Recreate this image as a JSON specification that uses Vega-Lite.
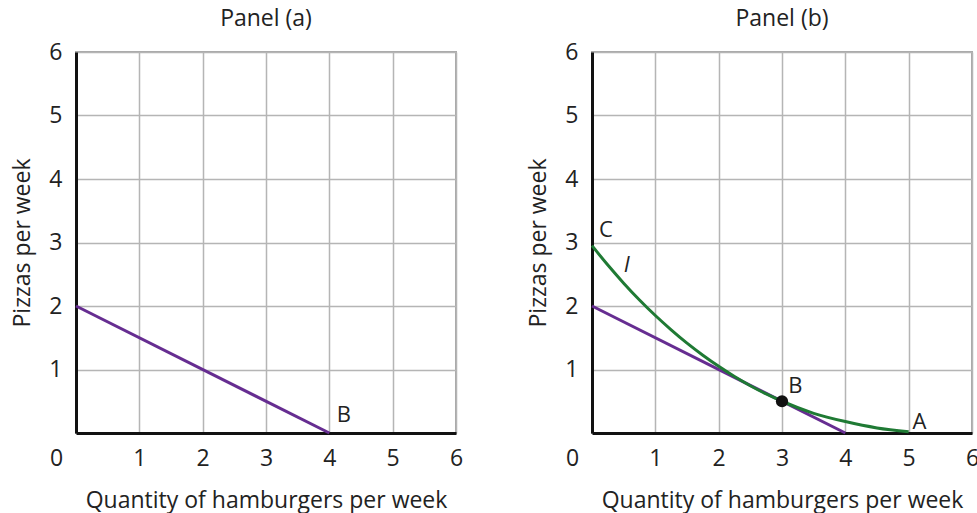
{
  "$schema": "https://vega.github.io/schema/vega-lite/v6.json",
  "padding": {"left": 10, "top": 7, "right": 4, "bottom": 4},
  "background": "white",
  "config": {
    "font": "Open Sans",
    "view": {"stroke": "#a8a8a8", "strokeWidth": 2},
    "axis": {
      "grid": true, "gridColor": "#b5b5b5", "gridWidth": 1.5,
      "domainColor": "#111", "domainWidth": 3, "ticks": false,
      "labelFontSize": 23, "labelColor": "#222", "labelOverlap": false, "labelFlush": false,
      "titleFontSize": 23, "titleFontWeight": "normal", "titleColor": "#222"
    },
    "title": {"fontSize": 23, "fontWeight": "normal", "color": "#222", "offset": 10},
    "concat": {"spacing": 62}
  },
  "hconcat": [
    {
      "title": "Panel (a)",
      "width": 380, "height": 381,
      "encoding": {
        "x": {"field": "x", "type": "quantitative", "scale": {"domain": [0, 6], "nice": false},
          "axis": {"values": [0, 1, 2, 3, 4, 5, 6], "title": "Quantity of hamburgers per week",
            "labelOffset": {"condition": {"test": "datum.value == 0", "value": -20}, "value": 0},
            "labelPadding": 14, "titlePadding": 19}},
        "y": {"field": "y", "type": "quantitative", "scale": {"domain": [0, 6], "nice": false},
          "axis": {"values": [1, 2, 3, 4, 5, 6], "title": "Pizzas per week", "labelPadding": 14, "titlePadding": 14}}
      },
      "layer": [
        {
          "data": {"values": [{"x": 0, "y": 2}, {"x": 4, "y": 0}]},
          "mark": {"type": "line", "color": "#662d91", "strokeWidth": 3}
        },
        {
          "data": {"values": [{"x": 4.23, "y": 0.28, "label": "B"}]},
          "mark": {"type": "text", "fontSize": 22, "color": "#222", "align": "center", "baseline": "middle"},
          "encoding": {"text": {"field": "label"}}
        }
      ]
    },
    {
      "title": "Panel (b)",
      "width": 380, "height": 381,
      "encoding": {
        "x": {"field": "x", "type": "quantitative", "scale": {"domain": [0, 6], "nice": false},
          "axis": {"values": [0, 1, 2, 3, 4, 5, 6], "title": "Quantity of hamburgers per week",
            "labelOffset": {"condition": {"test": "datum.value == 0", "value": -20}, "value": 0},
            "labelPadding": 14, "titlePadding": 19}},
        "y": {"field": "y", "type": "quantitative", "scale": {"domain": [0, 6], "nice": false},
          "axis": {"values": [1, 2, 3, 4, 5, 6], "title": "Pizzas per week", "labelPadding": 14, "titlePadding": 14}}
      },
      "layer": [
        {
          "data": {"values": [{"x": 0, "y": 2}, {"x": 4, "y": 0}]},
          "mark": {"type": "line", "color": "#662d91", "strokeWidth": 3}
        },
        {
          "data": {"values": [
            {"x": 0, "y": 2.95}, {"x": 0.25, "y": 2.645}, {"x": 0.5, "y": 2.36}, {"x": 0.75, "y": 2.095},
            {"x": 1, "y": 1.85}, {"x": 1.25, "y": 1.625}, {"x": 1.5, "y": 1.415}, {"x": 1.75, "y": 1.225},
            {"x": 2, "y": 1.05}, {"x": 2.25, "y": 0.89}, {"x": 2.5, "y": 0.745}, {"x": 2.75, "y": 0.615},
            {"x": 3, "y": 0.5}, {"x": 3.5, "y": 0.31}, {"x": 4, "y": 0.18}, {"x": 4.5, "y": 0.08}, {"x": 5, "y": 0.02}
          ]},
          "mark": {"type": "line", "color": "#1f7a34", "strokeWidth": 3, "interpolate": "monotone"}
        },
        {
          "data": {"values": [{"x": 3, "y": 0.5}]},
          "mark": {"type": "point", "filled": true, "color": "#111", "size": 150, "opacity": 1}
        },
        {
          "data": {"values": [
            {"x": 3.21, "y": 0.74, "label": "B"},
            {"x": 5.17, "y": 0.18, "label": "A"},
            {"x": 0.22, "y": 3.2, "label": "C"}
          ]},
          "mark": {"type": "text", "fontSize": 22, "color": "#222", "align": "center", "baseline": "middle"},
          "encoding": {"text": {"field": "label"}}
        },
        {
          "data": {"values": [{"x": 0.55, "y": 2.65, "label": "I"}]},
          "mark": {"type": "text", "fontSize": 22, "fontStyle": "italic", "color": "#222", "align": "center", "baseline": "middle"},
          "encoding": {"text": {"field": "label"}}
        }
      ]
    }
  ]
}
